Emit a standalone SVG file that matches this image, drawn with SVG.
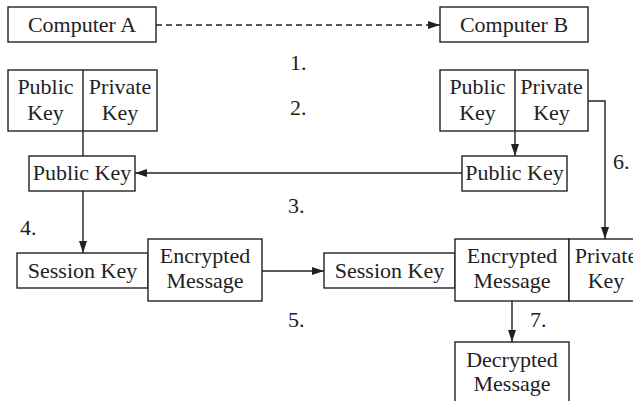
<svg xmlns="http://www.w3.org/2000/svg" width="633" height="401" viewBox="0 0 633 401">
<style>
rect.b{fill:#fff;stroke:#222;stroke-width:1.4}
text{font-family:"Liberation Serif","Times New Roman",serif;font-size:22px;fill:#222}
text.c{text-anchor:middle}
.ln{fill:none;stroke:#222;stroke-width:1.4}
</style>
<defs>
<marker id="ah" viewBox="0 0 12 8" refX="12" refY="4" markerWidth="12" markerHeight="8" markerUnits="userSpaceOnUse" orient="auto">
<path d="M0,0 L12,4 L0,8 z" fill="#222"/>
</marker>
</defs>
<rect width="633" height="401" fill="#fff"/>
<g id="connectors">
<path class="ln" d="M156,25 H440" stroke-dasharray="6 4" marker-end="url(#ah)"/>
<path class="ln" d="M83,101 V156"/>
<path class="ln" d="M79,101 H87"/>
<path class="ln" d="M515,101 V156" marker-end="url(#ah)"/>
<path class="ln" d="M511,101 H519"/>
<path class="ln" d="M588,101 H605 V239" marker-end="url(#ah)"/>
<path class="ln" d="M462,173 H135" marker-end="url(#ah)"/>
<path class="ln" d="M83,191 V253" marker-end="url(#ah)"/>
<path class="ln" d="M262,271 H324" marker-end="url(#ah)"/>
<path class="ln" d="M512,301 V342" marker-end="url(#ah)"/>
</g>
<g id="computerA"><rect class="b" x="8" y="7" width="148" height="35"/><text class="c" x="82" y="32">Computer A</text></g>
<g id="computerB"><rect class="b" x="440" y="7" width="148" height="35"/><text class="c" x="514" y="32">Computer B</text></g>
<g id="keysA">
<rect class="b" x="8" y="70" width="149" height="61"/>
<path class="ln" d="M83,70 V131"/>
<text class="c" x="45.5" y="94">Public</text><text class="c" x="45.5" y="120">Key</text>
<text class="c" x="120" y="94">Private</text><text class="c" x="120" y="120">Key</text>
</g>
<g id="keysB">
<rect class="b" x="440" y="70" width="148" height="61"/>
<path class="ln" d="M515,70 V131"/>
<text class="c" x="477.5" y="94">Public</text><text class="c" x="477.5" y="120">Key</text>
<text class="c" x="551.5" y="94">Private</text><text class="c" x="551.5" y="120">Key</text>
</g>
<g id="pubKeyA"><rect class="b" x="29" y="156" width="106" height="35"/><text class="c" x="82" y="180">Public Key</text></g>
<g id="pubKeyB"><rect class="b" x="462" y="156" width="105" height="35"/><text class="c" x="514.5" y="180">Public Key</text></g>
<g id="sessionA"><rect class="b" x="17" y="253" width="131" height="35"/><text class="c" x="82.5" y="278">Session Key</text></g>
<g id="encryptedA"><rect class="b" x="148" y="239" width="114" height="62"/><text class="c" x="205" y="263">Encrypted</text><text class="c" x="205" y="288">Message</text></g>
<g id="sessionB"><rect class="b" x="324" y="253" width="131" height="35"/><text class="c" x="389.5" y="278">Session Key</text></g>
<g id="encryptedB"><rect class="b" x="455" y="239" width="114" height="62"/><text class="c" x="512" y="263">Encrypted</text><text class="c" x="512" y="288">Message</text></g>
<g id="privateKeyB"><rect class="b" x="569" y="239" width="80" height="62"/><text class="c" x="606" y="263">Private</text><text class="c" x="606" y="288">Key</text></g>
<g id="decrypted"><rect class="b" x="455" y="342" width="114" height="80"/><text class="c" x="512" y="367">Decrypted</text><text class="c" x="512" y="391">Message</text></g>
<g id="labels">
<text x="290" y="70">1.</text>
<text x="290" y="115">2.</text>
<text x="288" y="213">3.</text>
<text x="20" y="235">4.</text>
<text x="288" y="327">5.</text>
<text x="613" y="169">6.</text>
<text x="530" y="327">7.</text>
</g>
</svg>
